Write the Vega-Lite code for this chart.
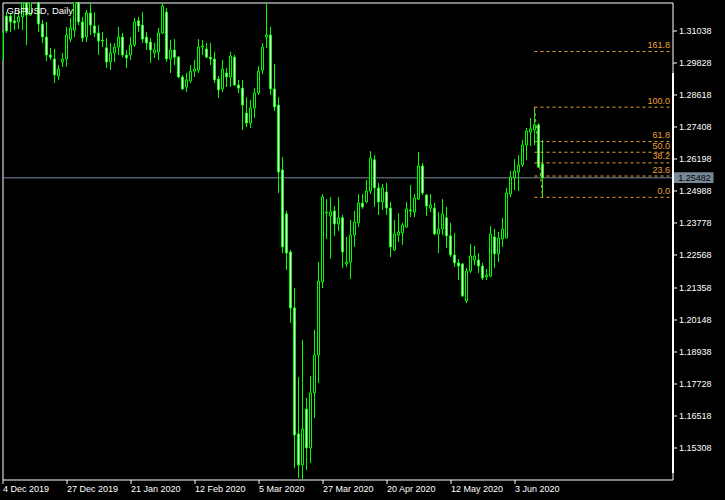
{
  "$schema": "https://vega.github.io/schema/vega-lite/v6.json",
  "width": 670,
  "height": 477,
  "autosize": "none",
  "padding": {"left": 2.5, "top": 2.5, "right": 52.5, "bottom": 20.5},
  "background": "#000000",
  "title": {"text": "GBPUSD, Daily", "anchor": "start", "frame": "group", "offset": -10.8, "dx": 4, "dy": 10, "baseline": "alphabetic", "color": "#ffffff", "font": "Liberation Sans", "fontSize": 9.5, "fontWeight": "normal"},
  "config": {
    "view": {"stroke": "#ffffff", "strokeWidth": 1, "fill": "#000000"},
    "axis": {"grid": false, "domain": false, "tickColor": "#ffffff", "tickWidth": 1, "labelColor": "#ffffff", "labelFont": "Liberation Sans", "labelFontSize": 9, "labelOverlap": false, "labelFlush": false}
  },
  "datasets": {
    "candles": [
      {"i":0,"d":"2019-12-04","o":1.2993,"h":1.3106,"l":1.2989,"c":1.3099},
      {"i":1,"d":"2019-12-05","o":1.3159,"h":1.3174,"l":1.3095,"c":1.3103},
      {"i":2,"d":"2019-12-06","o":1.3159,"h":1.3171,"l":1.3099,"c":1.3137},
      {"i":3,"d":"2019-12-09","o":1.3141,"h":1.3171,"l":1.3106,"c":1.3133},
      {"i":4,"d":"2019-12-10","o":1.3137,"h":1.3182,"l":1.3110,"c":1.3156},
      {"i":5,"d":"2019-12-11","o":1.3156,"h":1.3231,"l":1.3106,"c":1.3208},
      {"i":6,"d":"2019-12-12","o":1.3208,"h":1.3225,"l":1.3050,"c":1.3163},
      {"i":7,"d":"2019-12-13","o":1.3163,"h":1.3514,"l":1.3159,"c":1.3330},
      {"i":8,"d":"2019-12-16","o":1.3340,"h":1.3428,"l":1.3302,"c":1.3330},
      {"i":9,"d":"2019-12-17","o":1.3335,"h":1.3410,"l":1.3099,"c":1.3129},
      {"i":10,"d":"2019-12-18","o":1.3129,"h":1.3144,"l":1.3057,"c":1.3080},
      {"i":11,"d":"2019-12-19","o":1.3080,"h":1.3137,"l":1.2989,"c":1.3012},
      {"i":12,"d":"2019-12-20","o":1.3012,"h":1.3039,"l":1.2993,"c":1.3004},
      {"i":13,"d":"2019-12-23","o":1.2997,"h":1.3035,"l":1.2906,"c":1.2937},
      {"i":14,"d":"2019-12-24","o":1.2933,"h":1.2974,"l":1.2918,"c":1.2959},
      {"i":15,"d":"2019-12-26","o":1.2986,"h":1.3020,"l":1.2967,"c":1.2997},
      {"i":16,"d":"2019-12-27","o":1.2997,"h":1.3118,"l":1.2967,"c":1.3088},
      {"i":17,"d":"2019-12-30","o":1.3072,"h":1.3152,"l":1.3061,"c":1.3114},
      {"i":18,"d":"2019-12-31","o":1.3106,"h":1.3285,"l":1.3080,"c":1.3255},
      {"i":19,"d":"2020-01-02","o":1.3255,"h":1.3268,"l":1.3125,"c":1.3137},
      {"i":20,"d":"2020-01-03","o":1.3137,"h":1.3156,"l":1.3061,"c":1.3076},
      {"i":21,"d":"2020-01-06","o":1.3080,"h":1.3182,"l":1.3061,"c":1.3171},
      {"i":22,"d":"2020-01-07","o":1.3171,"h":1.3208,"l":1.3088,"c":1.3125},
      {"i":23,"d":"2020-01-08","o":1.3122,"h":1.3174,"l":1.3080,"c":1.3095},
      {"i":24,"d":"2020-01-09","o":1.3095,"h":1.3125,"l":1.3012,"c":1.3065},
      {"i":25,"d":"2020-01-10","o":1.3068,"h":1.3099,"l":1.3042,"c":1.3065},
      {"i":26,"d":"2020-01-13","o":1.3039,"h":1.3076,"l":1.2963,"c":1.2986},
      {"i":27,"d":"2020-01-14","o":1.2986,"h":1.3057,"l":1.2956,"c":1.3020},
      {"i":28,"d":"2020-01-15","o":1.3020,"h":1.3057,"l":1.2986,"c":1.3042},
      {"i":29,"d":"2020-01-16","o":1.3042,"h":1.3118,"l":1.3012,"c":1.3080},
      {"i":30,"d":"2020-01-17","o":1.3080,"h":1.3095,"l":1.3004,"c":1.3012},
      {"i":31,"d":"2020-01-20","o":1.3012,"h":1.3031,"l":1.2963,"c":1.3001},
      {"i":32,"d":"2020-01-21","o":1.3012,"h":1.3080,"l":1.2993,"c":1.3050},
      {"i":33,"d":"2020-01-22","o":1.3050,"h":1.3152,"l":1.3042,"c":1.3137},
      {"i":34,"d":"2020-01-23","o":1.3141,"h":1.3156,"l":1.3099,"c":1.3122},
      {"i":35,"d":"2020-01-24","o":1.3125,"h":1.3174,"l":1.3057,"c":1.3072},
      {"i":36,"d":"2020-01-27","o":1.3080,"h":1.3099,"l":1.3031,"c":1.3057},
      {"i":37,"d":"2020-01-28","o":1.3061,"h":1.3076,"l":1.2982,"c":1.3031},
      {"i":38,"d":"2020-01-29","o":1.3020,"h":1.3057,"l":1.3001,"c":1.3031},
      {"i":39,"d":"2020-01-30","o":1.3024,"h":1.3114,"l":1.2993,"c":1.3095},
      {"i":40,"d":"2020-01-31","o":1.3095,"h":1.3208,"l":1.3091,"c":1.3197},
      {"i":41,"d":"2020-02-03","o":1.3174,"h":1.3190,"l":1.2986,"c":1.2997},
      {"i":42,"d":"2020-02-04","o":1.2997,"h":1.3069,"l":1.2944,"c":1.3031},
      {"i":43,"d":"2020-02-05","o":1.3031,"h":1.3072,"l":1.2974,"c":1.3004},
      {"i":44,"d":"2020-02-06","o":1.3004,"h":1.3008,"l":1.2925,"c":1.2929},
      {"i":45,"d":"2020-02-07","o":1.2929,"h":1.2937,"l":1.2880,"c":1.2884},
      {"i":46,"d":"2020-02-10","o":1.2891,"h":1.2944,"l":1.2872,"c":1.2918},
      {"i":47,"d":"2020-02-11","o":1.2914,"h":1.2974,"l":1.2906,"c":1.2951},
      {"i":48,"d":"2020-02-12","o":1.2951,"h":1.2993,"l":1.2929,"c":1.2959},
      {"i":49,"d":"2020-02-13","o":1.2955,"h":1.3072,"l":1.2944,"c":1.3042},
      {"i":50,"d":"2020-02-14","o":1.3042,"h":1.3069,"l":1.3012,"c":1.3046},
      {"i":51,"d":"2020-02-17","o":1.3035,"h":1.3057,"l":1.3001,"c":1.3004},
      {"i":52,"d":"2020-02-18","o":1.3004,"h":1.3057,"l":1.2974,"c":1.2997},
      {"i":53,"d":"2020-02-19","o":1.2997,"h":1.3024,"l":1.2906,"c":1.2918},
      {"i":54,"d":"2020-02-20","o":1.2921,"h":1.2933,"l":1.2850,"c":1.2880},
      {"i":55,"d":"2020-02-21","o":1.2884,"h":1.2993,"l":1.2872,"c":1.2959},
      {"i":56,"d":"2020-02-24","o":1.2944,"h":1.2963,"l":1.2891,"c":1.2929},
      {"i":57,"d":"2020-02-25","o":1.2929,"h":1.3024,"l":1.2891,"c":1.3008},
      {"i":58,"d":"2020-02-26","o":1.3004,"h":1.3012,"l":1.2895,"c":1.2899},
      {"i":59,"d":"2020-02-27","o":1.2899,"h":1.2918,"l":1.2869,"c":1.2887},
      {"i":60,"d":"2020-02-28","o":1.2887,"h":1.2918,"l":1.2729,"c":1.2823},
      {"i":61,"d":"2020-03-02","o":1.2793,"h":1.2853,"l":1.2740,"c":1.2755},
      {"i":62,"d":"2020-03-03","o":1.2755,"h":1.2842,"l":1.2736,"c":1.2812},
      {"i":63,"d":"2020-03-04","o":1.2812,"h":1.2887,"l":1.2774,"c":1.2869},
      {"i":64,"d":"2020-03-05","o":1.2869,"h":1.2970,"l":1.2861,"c":1.2951},
      {"i":65,"d":"2020-03-06","o":1.2955,"h":1.3057,"l":1.2940,"c":1.3042},
      {"i":66,"d":"2020-03-09","o":1.3080,"h":1.3208,"l":1.3039,"c":1.3088},
      {"i":67,"d":"2020-03-10","o":1.3088,"h":1.3118,"l":1.2861,"c":1.2884},
      {"i":68,"d":"2020-03-11","o":1.2884,"h":1.2978,"l":1.2801,"c":1.2816},
      {"i":69,"d":"2020-03-12","o":1.2823,"h":1.2853,"l":1.2491,"c":1.2570},
      {"i":70,"d":"2020-03-13","o":1.2578,"h":1.2627,"l":1.2264,"c":1.2287},
      {"i":71,"d":"2020-03-16","o":1.2412,"h":1.2423,"l":1.2200,"c":1.2264},
      {"i":72,"d":"2020-03-17","o":1.2268,"h":1.2276,"l":1.2000,"c":1.2057},
      {"i":73,"d":"2020-03-18","o":1.2057,"h":1.2132,"l":1.1452,"c":1.1577},
      {"i":74,"d":"2020-03-19","o":1.1581,"h":1.1796,"l":1.1415,"c":1.1464},
      {"i":75,"d":"2020-03-20","o":1.1464,"h":1.1936,"l":1.1407,"c":1.1600},
      {"i":76,"d":"2020-03-23","o":1.1675,"h":1.1717,"l":1.1445,"c":1.1528},
      {"i":77,"d":"2020-03-24","o":1.1528,"h":1.1800,"l":1.1471,"c":1.1736},
      {"i":78,"d":"2020-03-25","o":1.1736,"h":1.1974,"l":1.1641,"c":1.1879},
      {"i":79,"d":"2020-03-26","o":1.1879,"h":1.2230,"l":1.1773,"c":1.2158},
      {"i":80,"d":"2020-03-27","o":1.2155,"h":1.2487,"l":1.2132,"c":1.2476},
      {"i":81,"d":"2020-03-30","o":1.2415,"h":1.2468,"l":1.2317,"c":1.2419},
      {"i":82,"d":"2020-03-31","o":1.2404,"h":1.2476,"l":1.2242,"c":1.2419},
      {"i":83,"d":"2020-04-01","o":1.2423,"h":1.2442,"l":1.2329,"c":1.2374},
      {"i":84,"d":"2020-04-02","o":1.2374,"h":1.2476,"l":1.2347,"c":1.2397},
      {"i":85,"d":"2020-04-03","o":1.2397,"h":1.2408,"l":1.2208,"c":1.2268},
      {"i":86,"d":"2020-04-06","o":1.2223,"h":1.2325,"l":1.2211,"c":1.2230},
      {"i":87,"d":"2020-04-07","o":1.2230,"h":1.2389,"l":1.2166,"c":1.2332},
      {"i":88,"d":"2020-04-08","o":1.2332,"h":1.2423,"l":1.2287,"c":1.2381},
      {"i":89,"d":"2020-04-09","o":1.2378,"h":1.2487,"l":1.2362,"c":1.2453},
      {"i":90,"d":"2020-04-10","o":1.2453,"h":1.2487,"l":1.2431,"c":1.2438},
      {"i":91,"d":"2020-04-13","o":1.2457,"h":1.2540,"l":1.2453,"c":1.2498},
      {"i":92,"d":"2020-04-14","o":1.2498,"h":1.2649,"l":1.2487,"c":1.2623},
      {"i":93,"d":"2020-04-15","o":1.2616,"h":1.2634,"l":1.2438,"c":1.2510},
      {"i":94,"d":"2020-04-16","o":1.2510,"h":1.2529,"l":1.2408,"c":1.2457},
      {"i":95,"d":"2020-04-17","o":1.2457,"h":1.2525,"l":1.2427,"c":1.2510},
      {"i":96,"d":"2020-04-20","o":1.2495,"h":1.2529,"l":1.2408,"c":1.2434},
      {"i":97,"d":"2020-04-21","o":1.2434,"h":1.2457,"l":1.2249,"c":1.2287},
      {"i":98,"d":"2020-04-22","o":1.2276,"h":1.2389,"l":1.2272,"c":1.2336},
      {"i":99,"d":"2020-04-23","o":1.2332,"h":1.2415,"l":1.2306,"c":1.2344},
      {"i":100,"d":"2020-04-24","o":1.2340,"h":1.2378,"l":1.2295,"c":1.2370},
      {"i":101,"d":"2020-04-27","o":1.2362,"h":1.2457,"l":1.2362,"c":1.2431},
      {"i":102,"d":"2020-04-28","o":1.2427,"h":1.2521,"l":1.2400,"c":1.2423},
      {"i":103,"d":"2020-04-29","o":1.2419,"h":1.2487,"l":1.2400,"c":1.2472},
      {"i":104,"d":"2020-04-30","o":1.2468,"h":1.2646,"l":1.2465,"c":1.2593},
      {"i":105,"d":"2020-05-01","o":1.2593,"h":1.2604,"l":1.2483,"c":1.2491},
      {"i":106,"d":"2020-05-04","o":1.2483,"h":1.2487,"l":1.2404,"c":1.2442},
      {"i":107,"d":"2020-05-05","o":1.2434,"h":1.2487,"l":1.2419,"c":1.2446},
      {"i":108,"d":"2020-05-06","o":1.2434,"h":1.2453,"l":1.2332,"c":1.2336},
      {"i":109,"d":"2020-05-07","o":1.2336,"h":1.2419,"l":1.2264,"c":1.2355},
      {"i":110,"d":"2020-05-08","o":1.2355,"h":1.2468,"l":1.2332,"c":1.2412},
      {"i":111,"d":"2020-05-11","o":1.2397,"h":1.2438,"l":1.2283,"c":1.2329},
      {"i":112,"d":"2020-05-12","o":1.2329,"h":1.2378,"l":1.2249,"c":1.2257},
      {"i":113,"d":"2020-05-13","o":1.2257,"h":1.2340,"l":1.2211,"c":1.2227},
      {"i":114,"d":"2020-05-14","o":1.2227,"h":1.2242,"l":1.2162,"c":1.2215},
      {"i":115,"d":"2020-05-15","o":1.2223,"h":1.2227,"l":1.2098,"c":1.2102},
      {"i":116,"d":"2020-05-18","o":1.2083,"h":1.2208,"l":1.2075,"c":1.2196},
      {"i":117,"d":"2020-05-19","o":1.2196,"h":1.2298,"l":1.2189,"c":1.2253},
      {"i":118,"d":"2020-05-20","o":1.2238,"h":1.2291,"l":1.2219,"c":1.2253},
      {"i":119,"d":"2020-05-21","o":1.2238,"h":1.2264,"l":1.2189,"c":1.2215},
      {"i":120,"d":"2020-05-22","o":1.2215,"h":1.2227,"l":1.2162,"c":1.2170},
      {"i":121,"d":"2020-05-25","o":1.2174,"h":1.2204,"l":1.2162,"c":1.2181},
      {"i":122,"d":"2020-05-26","o":1.2177,"h":1.2366,"l":1.2174,"c":1.2336},
      {"i":123,"d":"2020-05-27","o":1.2325,"h":1.2355,"l":1.2208,"c":1.2261},
      {"i":124,"d":"2020-05-28","o":1.2261,"h":1.2344,"l":1.2230,"c":1.2321},
      {"i":125,"d":"2020-05-29","o":1.2317,"h":1.2397,"l":1.2287,"c":1.2355},
      {"i":126,"d":"2020-06-01","o":1.2321,"h":1.2510,"l":1.2321,"c":1.2491},
      {"i":127,"d":"2020-06-02","o":1.2487,"h":1.2574,"l":1.2476,"c":1.2551},
      {"i":128,"d":"2020-06-03","o":1.2548,"h":1.2619,"l":1.2502,"c":1.2574},
      {"i":129,"d":"2020-06-04","o":1.2570,"h":1.2634,"l":1.2498,"c":1.2597},
      {"i":130,"d":"2020-06-05","o":1.2597,"h":1.2691,"l":1.2589,"c":1.2672},
      {"i":131,"d":"2020-06-08","o":1.2672,"h":1.2736,"l":1.2616,"c":1.2725},
      {"i":132,"d":"2020-06-09","o":1.2721,"h":1.2774,"l":1.2668,"c":1.2733},
      {"i":133,"d":"2020-06-10","o":1.2729,"h":1.2815,"l":1.2672,"c":1.2748},
      {"i":134,"d":"2020-06-11","o":1.2748,"h":1.2755,"l":1.2585,"c":1.2589},
      {"i":135,"d":"2020-06-12","o":1.2600,"h":1.2691,"l":1.24746,"c":1.25482}
    ],
    "fib": [
      {"lv":"0.0","p":1.24746},
      {"lv":"23.6","p":1.25549},
      {"lv":"38.2","p":1.26046},
      {"lv":"50.0","p":1.26448},
      {"lv":"61.8","p":1.26850},
      {"lv":"100.0","p":1.28150},
      {"lv":"161.8","p":1.30254}
    ]
  },
  "layer": [
    {
      "data": {"name": "candles"},
      "mark": {"type": "rule", "color": "#00ff00", "strokeWidth": 1, "clip": true},
      "encoding": {
        "x": {"field": "i", "type": "quantitative", "title": null,
              "scale": {"domain": [0, 167.5], "nice": false, "zero": false, "padding": 0},
              "axis": {"orient": "bottom", "values": [0,16,32,48,64,80,96,112,128], "tickCount": 20, "tickSize": 4, "labelPadding": 1, "labelAlign": "left", "labelBaseline": "top", "labelOverlap": false, "labelFlush": false, "labelBound": false,
                       "labelExpr": "datum.value==0?'4 Dec 2019':datum.value==16?'27 Dec 2019':datum.value==32?'21 Jan 2020':datum.value==48?'12 Feb 2020':datum.value==64?'5 Mar 2020':datum.value==80?'27 Mar 2020':datum.value==96?'20 Apr 2020':datum.value==112?'12 May 2020':'3 Jun 2020'"}},
        "y": {"field": "l", "type": "quantitative", "title": null,
              "scale": {"domain": [1.14089, 1.32103], "nice": false, "zero": false, "padding": 0},
              "axis": {"orient": "right", "values": [1.31038,1.29828,1.28618,1.27408,1.26198,1.24988,1.23778,1.22568,1.21358,1.20148,1.18938,1.17728,1.16518,1.15308], "tickCount": 30, "format": ".5f", "tickSize": 4, "labelPadding": 2, "labelOverlap": false, "labelFlush": false, "labelBound": false}},
        "y2": {"field": "h"}
      }
    },
    {
      "data": {"values": [{}]},
      "mark": {"type": "rule", "color": "#778899", "strokeWidth": 1},
      "encoding": {
        "y": {"datum": 1.25482, "type": "quantitative", "title": null}
      }
    },
    {
      "data": {"values": [{}]},
      "mark": {"type": "rule", "color": "#eba13a", "strokeWidth": 1, "strokeDash": [3, 3]},
      "encoding": {
        "x": {"datum": 133, "type": "quantitative", "title": null},
        "x2": {"datum": 135},
        "y": {"datum": 1.2815, "type": "quantitative", "title": null},
        "y2": {"datum": 1.24746}
      }
    },
    {
      "data": {"name": "fib"},
      "mark": {"type": "rule", "color": "#eba13a", "strokeWidth": 1, "strokeDash": [3, 3]},
      "encoding": {
        "x": {"datum": 133, "type": "quantitative", "title": null},
        "x2": {"datum": 166.7},
        "y": {"field": "p", "type": "quantitative", "title": null}
      }
    },
    {
      "data": {"name": "fib"},
      "mark": {"type": "text", "color": "#eba13a", "font": "Liberation Sans", "fontSize": 9, "align": "right", "baseline": "alphabetic", "dy": -3.5},
      "encoding": {
        "x": {"datum": 166.875, "type": "quantitative", "title": null},
        "y": {"field": "p", "type": "quantitative", "title": null},
        "text": {"field": "lv"}
      }
    },
    {
      "data": {"name": "candles"},
      "mark": {"type": "bar", "width": 2, "stroke": "#00ff00", "strokeWidth": 1, "clip": true},
      "encoding": {
        "x": {"field": "i", "type": "quantitative", "title": null},
        "y": {"field": "o", "type": "quantitative", "title": null},
        "y2": {"field": "c"},
        "fill": {"condition": {"test": "datum.c < datum.o", "value": "#ffffff"}, "value": "#000000"}
      }
    },
    {
      "data": {"values": [{}]},
      "mark": {"type": "rect", "fill": "#778899"},
      "encoding": {
        "x": {"datum": 167.875, "type": "quantitative", "title": null},
        "x2": {"datum": 177.75},
        "y": {"datum": 1.2569, "type": "quantitative", "title": null},
        "y2": {"datum": 1.25286}
      }
    },
    {
      "data": {"values": [{}]},
      "mark": {"type": "text", "color": "#000000", "font": "Liberation Sans", "fontSize": 9, "align": "left", "baseline": "middle"},
      "encoding": {
        "x": {"datum": 168.95, "type": "quantitative", "title": null},
        "y": {"datum": 1.25482, "type": "quantitative", "title": null},
        "text": {"value": "1.25482"}
      }
    },
    {
      "data": {"values": [{}]},
      "mark": {"type": "rule", "color": "#ffffff", "strokeWidth": 2},
      "encoding": {
        "x": {"datum": 167.625, "type": "quantitative", "title": null},
        "y": {"datum": 1.2944, "type": "quantitative", "title": null},
        "y2": {"datum": 1.14335}
      }
    }
  ]
}
